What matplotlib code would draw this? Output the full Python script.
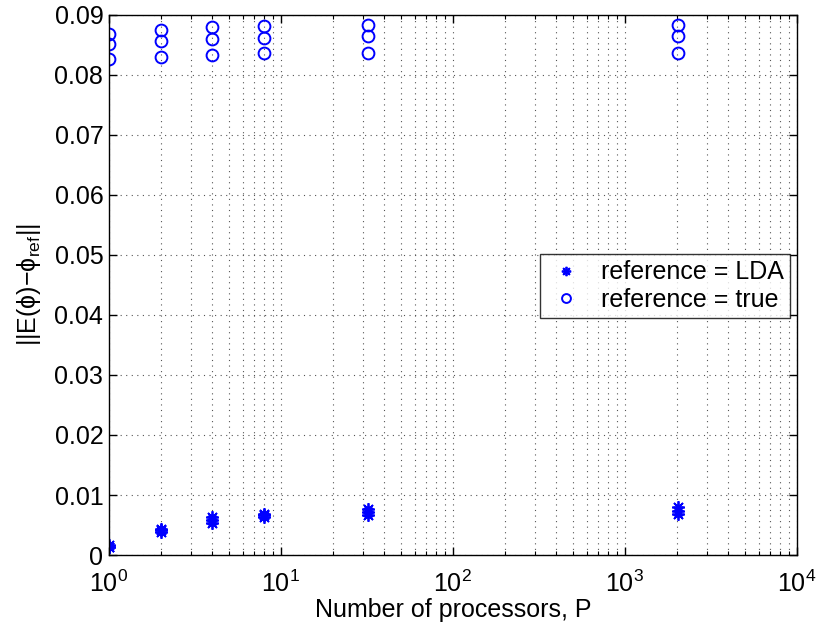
import matplotlib
matplotlib.use("Agg")
import matplotlib.pyplot as plt
from matplotlib.ticker import LogLocator, MultipleLocator, NullFormatter, FormatStrFormatter

plt.rcParams['font.family'] = ['Liberation Sans', 'DejaVu Sans']
plt.rcParams['mathtext.fontset'] = 'custom'
plt.rcParams['mathtext.rm'] = 'Liberation Sans'
plt.rcParams['mathtext.it'] = 'Liberation Sans'
plt.rcParams['mathtext.default'] = 'regular'

processors = [1, 2, 4, 8, 32, 2048]
# three runs per processor count
lda_err = [
    [0.0013, 0.0014, 0.0016],
    [0.0038, 0.0041, 0.0044],
    [0.0054, 0.0059, 0.0063],
    [0.0063, 0.0066, 0.0069],
    [0.0066, 0.0072, 0.0077],
    [0.0068, 0.0074, 0.0080],
]
true_err = [
    [0.0826, 0.0852, 0.0868],
    [0.0830, 0.0857, 0.0875],
    [0.0834, 0.0860, 0.0880],
    [0.0836, 0.0862, 0.0882],
    [0.0836, 0.0865, 0.0884],
    [0.0837, 0.0865, 0.0884],
]

fig = plt.figure(figsize=(8.25, 6.22), dpi=100)
ax = fig.add_axes([0.132, 0.1077, 0.834, 0.8683])

xs_l, ys_l, xs_t, ys_t = [], [], [], []
for p, l, t in zip(processors, lda_err, true_err):
    for v in l:
        xs_l.append(p); ys_l.append(v)
    for v in t:
        xs_t.append(p); ys_t.append(v)

ax.plot(xs_l, ys_l, linestyle='none', marker=(8, 2, 0), markersize=9,
        markeredgewidth=1.3, color='#0000ff', label='reference = LDA')
ax.plot(xs_t, ys_t, linestyle='none', marker='o', markersize=8.5,
        markerfacecolor='none', markeredgewidth=1.4, color='#0000ff',
        label='reference = true')

ax.set_xscale('log')
ax.set_xlim(1, 1e4)
ax.set_ylim(0, 0.09)
ax.yaxis.set_major_locator(MultipleLocator(0.01))
ax.yaxis.set_major_formatter(FormatStrFormatter('%g'))
ax.xaxis.set_major_locator(LogLocator(base=10, numticks=10))
ax.xaxis.set_minor_locator(LogLocator(base=10, subs=range(2, 10), numticks=20))
ax.xaxis.set_minor_formatter(NullFormatter())

ax.grid(True, which='major', linestyle=(0, (1, 4)), color='#555555', linewidth=0.8)
ax.grid(True, which='minor', axis='x', linestyle=(0, (1, 4)), color='#555555', linewidth=0.8)

ax.tick_params(which='both', direction='in', top=True, right=True, labelsize=18)
ax.tick_params(which='major', length=6, width=1)
ax.tick_params(which='minor', length=3, width=0.8)
ax.tick_params(axis='x', pad=11)
ax.tick_params(axis='y', pad=4)
for s in ax.spines.values():
    s.set_linewidth(1.0)

ax.set_xlabel('Number of processors, P', fontsize=18, labelpad=1)
ax.set_ylabel('||E(ϕ)−ϕ$_{ref}$||', fontsize=18, labelpad=8)

leg = ax.legend(loc='upper right', bbox_to_anchor=(0.99, 0.557), fontsize=18,
                frameon=True, fancybox=False, edgecolor='black',
                handlelength=1.6, borderpad=0.25, labelspacing=0.15,
                handletextpad=0.6, markerscale=0.75, borderaxespad=0)
leg.get_frame().set_linewidth(1.0)

fig.savefig('out.png', dpi=100)
